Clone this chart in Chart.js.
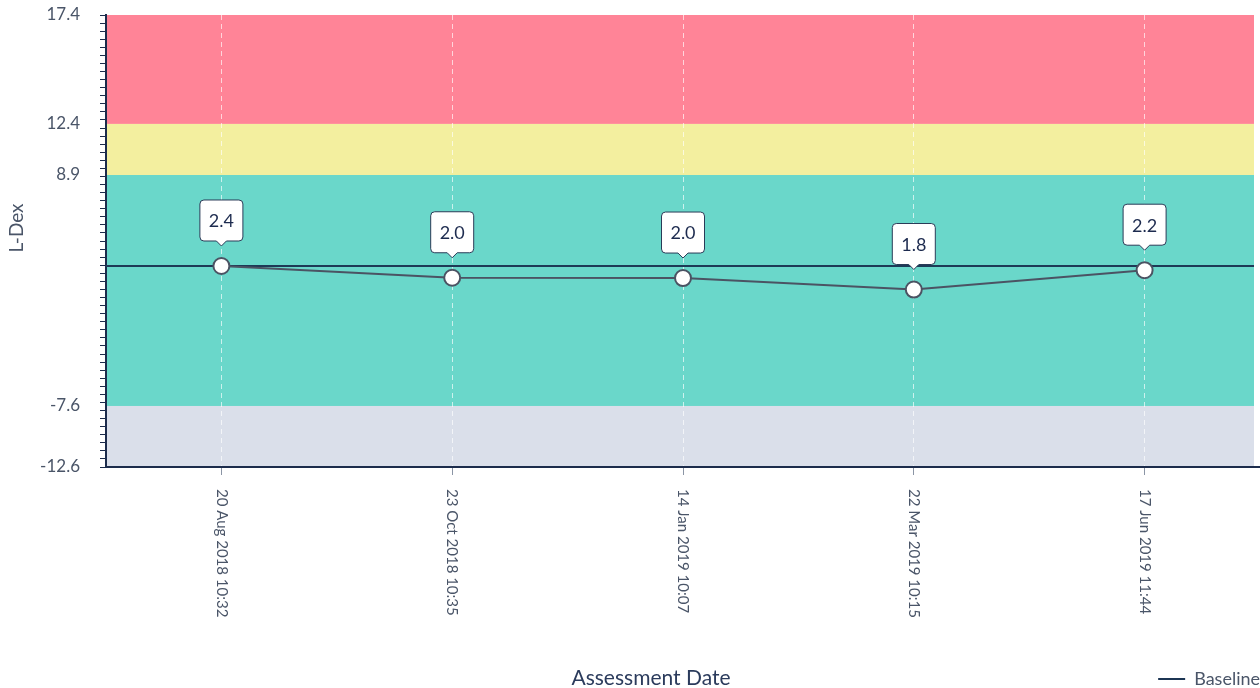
<!DOCTYPE html>
<html>
<head>
<meta charset="utf-8">
<script src="https://cdn.jsdelivr.net/npm/chart.js@4.4.1/dist/chart.umd.min.js"></script>
<style>
    html, body { margin: 0; padding: 0; background: #fff; }
    #wrap { width: 1260px; height: 688px; position: relative; }
</style>
</head>
<body>
<div id="wrap"><canvas id="ldexChart"></canvas></div>
<script>
// x axis categories
const assessmentDates = ['20 Aug 2018 10:32', '23 Oct 2018 10:35', '14 Jan 2019 10:07', '22 Mar 2019 10:15', '17 Jun 2019 11:44'];
// readings printed in the callouts
const lDexReadings = [2.4, 2.0, 2.0, 1.8, 2.2];
// heights the points are drawn at (they sit lower than the printed readings)
const lDexValues = [2.4, 1.56, 1.54, 0.72, 2.1];
const baselineValue = 2.4;
// labelled y ticks, these are also the band edges (top to bottom)
const yTickValues = [17.4, 12.4, 8.9, -7.6, -12.6];

// styling
const bandColors = ['#ff8497', '#f3ef9f', '#6ad7ca', '#dadfea'];
const yStops = [0, 0.241, 0.354, 0.865, 1]; // where each edge sits down the plot (0 = top)
const minorSteps = 56;
const navy = '#1c2c4c';
const textGrey = '#4a5568';
const fontFamily = 'Lato, "Open Sans", sans-serif';

// axis is not linear: each band gets its own stretch of the plot
function toDecimal(value) {
    for (let i = 0; i < yTickValues.length - 1; i++) {
        const hi = yTickValues[i], lo = yTickValues[i + 1];
        if (value >= lo || i === yTickValues.length - 2) {
            const t = (hi - value) / (hi - lo);
            return 1 - (yStops[i] + t * (yStops[i + 1] - yStops[i]));
        }
    }
}

function fromDecimal(d) {
    const s = 1 - d;
    for (let i = 0; i < yStops.length - 1; i++) {
        if (s <= yStops[i + 1] || i === yStops.length - 2) {
            const t = (s - yStops[i]) / (yStops[i + 1] - yStops[i]);
            return yTickValues[i] - t * (yTickValues[i] - yTickValues[i + 1]);
        }
    }
}

class BandedScale extends Chart.LinearScale {
    getPixelForValue(value) {
        if (value === null || value === undefined) return NaN;
        return this.getPixelForDecimal(toDecimal(value));
    }
    getValueForPixel(pixel) {
        return fromDecimal(this.getDecimalForPixel(pixel));
    }
}
BandedScale.id = 'banded';
BandedScale.defaults = {};
Chart.register(BandedScale);

const chartDecor = {
    id: 'chartDecor',
    beforeDraw(chart) {
        const { ctx, chartArea } = chart;
        const y = chart.scales.y;
        // the coloured plot stops a few px short of the canvas edge
        const width = chartArea.right - 6 - chartArea.left;
        ctx.save();
        for (let i = 0; i < bandColors.length; i++) {
            const top = y.getPixelForValue(yTickValues[i]);
            const bottom = y.getPixelForValue(yTickValues[i + 1]);
            ctx.fillStyle = bandColors[i];
            ctx.fillRect(chartArea.left, top, width, bottom - top);
        }
        ctx.restore();
    },
    beforeDatasetsDraw(chart) {
        const { ctx, chartArea } = chart;
        const by = chart.scales.y.getPixelForValue(baselineValue);
        ctx.save();
        ctx.strokeStyle = '#1d3a56';
        ctx.lineWidth = 2;
        ctx.beginPath();
        ctx.moveTo(chartArea.left, by);
        ctx.lineTo(chartArea.right - 6, by);
        ctx.stroke();
        ctx.restore();
    },
    afterDatasetsDraw(chart) {
        const ctx = chart.ctx;
        const meta = chart.getDatasetMeta(0);
        const w = 43, h = 41, gap = 25, r = 4, notch = 5;
        ctx.save();
        meta.data.forEach((pt, i) => {
            const x = pt.x;
            const bottom = pt.y - gap;
            const top = bottom - h;
            const left = x - w / 2, right = x + w / 2;
            ctx.beginPath();
            ctx.moveTo(left + r, top);
            ctx.arcTo(right, top, right, bottom, r);
            ctx.arcTo(right, bottom, left, bottom, r);
            ctx.lineTo(x + notch, bottom);
            ctx.lineTo(x, bottom + notch);
            ctx.lineTo(x - notch, bottom);
            ctx.arcTo(left, bottom, left, top, r);
            ctx.arcTo(left, top, right, top, r);
            ctx.closePath();
            ctx.fillStyle = '#fff';
            ctx.fill();
            ctx.strokeStyle = '#2a3b57';
            ctx.lineWidth = 1;
            ctx.stroke();
            ctx.fillStyle = '#1d2b4f';
            ctx.font = '18px ' + fontFamily;
            ctx.textAlign = 'center';
            ctx.textBaseline = 'middle';
            ctx.fillText(lDexReadings[i].toFixed(1), x, top + h / 2 + 1);
        });
        ctx.restore();
    },
    afterDraw(chart) {
        const { ctx, chartArea } = chart;
        const xs = chart.scales.x;
        ctx.save();
        // rotated date labels, reading top to bottom
        ctx.fillStyle = textGrey;
        ctx.font = '15px ' + fontFamily;
        ctx.textAlign = 'left';
        ctx.textBaseline = 'middle';
        assessmentDates.forEach((label, i) => {
            ctx.save();
            ctx.translate(xs.getPixelForTick(i), chartArea.bottom + 22);
            ctx.rotate(Math.PI / 2);
            ctx.fillText(label, 0, 0);
            ctx.restore();
        });
        // axis titles
        ctx.textAlign = 'center';
        ctx.fillStyle = '#2b3b5c';
        ctx.font = '21px ' + fontFamily;
        ctx.fillText('Assessment Date', 651, 678);
        ctx.save();
        ctx.translate(17, 228);
        ctx.rotate(-Math.PI / 2);
        ctx.fillStyle = textGrey;
        ctx.font = '19px ' + fontFamily;
        ctx.fillText('L-Dex', 0, 0);
        ctx.restore();
        ctx.restore();
    }
};

const ctx = document.getElementById('ldexChart').getContext('2d');
new Chart(ctx, {
    type: 'line',
    data: {
        labels: assessmentDates,
        datasets: [{
            label: 'L-Dex',
            data: lDexValues,
            borderColor: '#4b5363',
            borderWidth: 2,
            tension: 0,
            pointRadius: 8,
            pointBackgroundColor: '#fff',
            pointBorderColor: '#4b5363',
            pointBorderWidth: 2
        }, {
            label: 'Baseline',
            data: [],
            borderColor: '#1c3553',
            borderWidth: 2
        }]
    },
    options: {
        responsive: true,
        maintainAspectRatio: false,
        animation: false,
        layout: { autoPadding: false, padding: { top: 15, right: 0, left: 0, bottom: -10 } },
        scales: {
            x: {
                type: 'category',
                offset: true,
                grid: {
                    offset: false,
                    color: 'rgba(255, 255, 255, 0.65)',
                    lineWidth: 1,
                    tickColor: '#8b95a5',
                    tickLength: 8
                },
                border: { display: true, color: navy, width: 2, dash: [5, 4] },
                ticks: { display: false },
                afterFit(scale) {
                    scale.height = 203;
                    scale.paddingLeft = 0;
                    scale.paddingRight = 0;
                }
            },
            y: {
                type: 'banded',
                min: -12.6,
                max: 17.4,
                grid: {
                    drawOnChartArea: false,
                    tickLength: 6,
                    tickColor: (c) => (c.tick && c.tick.labelled && c.tick.value !== 17.4 && c.tick.value !== -12.6) ? 'rgba(0,0,0,0)' : navy
                },
                border: { display: true, color: navy, width: 2 },
                ticks: {
                    autoSkip: false,
                    padding: 20,
                    color: textGrey,
                    font: { family: fontFamily, size: 17 },
                    callback: (value, i, ticks) => ticks[i].labelled ? value.toFixed(1) : ''
                },
                afterBuildTicks(scale) {
                    const ticks = yTickValues.map(v => ({ value: v, labelled: true }));
                    for (let k = 1; k < minorSteps; k++) {
                        ticks.push({ value: fromDecimal(k / minorSteps), labelled: false });
                    }
                    ticks.sort((a, b) => a.value - b.value);
                    scale.ticks = ticks;
                },
                afterFit(scale) {
                    scale.width = 106;
                    scale.paddingTop = 0;
                    scale.paddingBottom = 0;
                }
            }
        },
        plugins: {
            tooltip: { enabled: false },
            legend: {
                position: 'bottom',
                align: 'end',
                labels: {
                    usePointStyle: true,
                    pointStyle: 'line',
                    pointStyleWidth: 27,
                    padding: 0,
                    color: textGrey,
                    font: { family: fontFamily, size: 18 },
                    filter: (item) => item.text === 'Baseline'
                }
            }
        }
    },
    plugins: [chartDecor]
});
</script>
</body>
</html>
